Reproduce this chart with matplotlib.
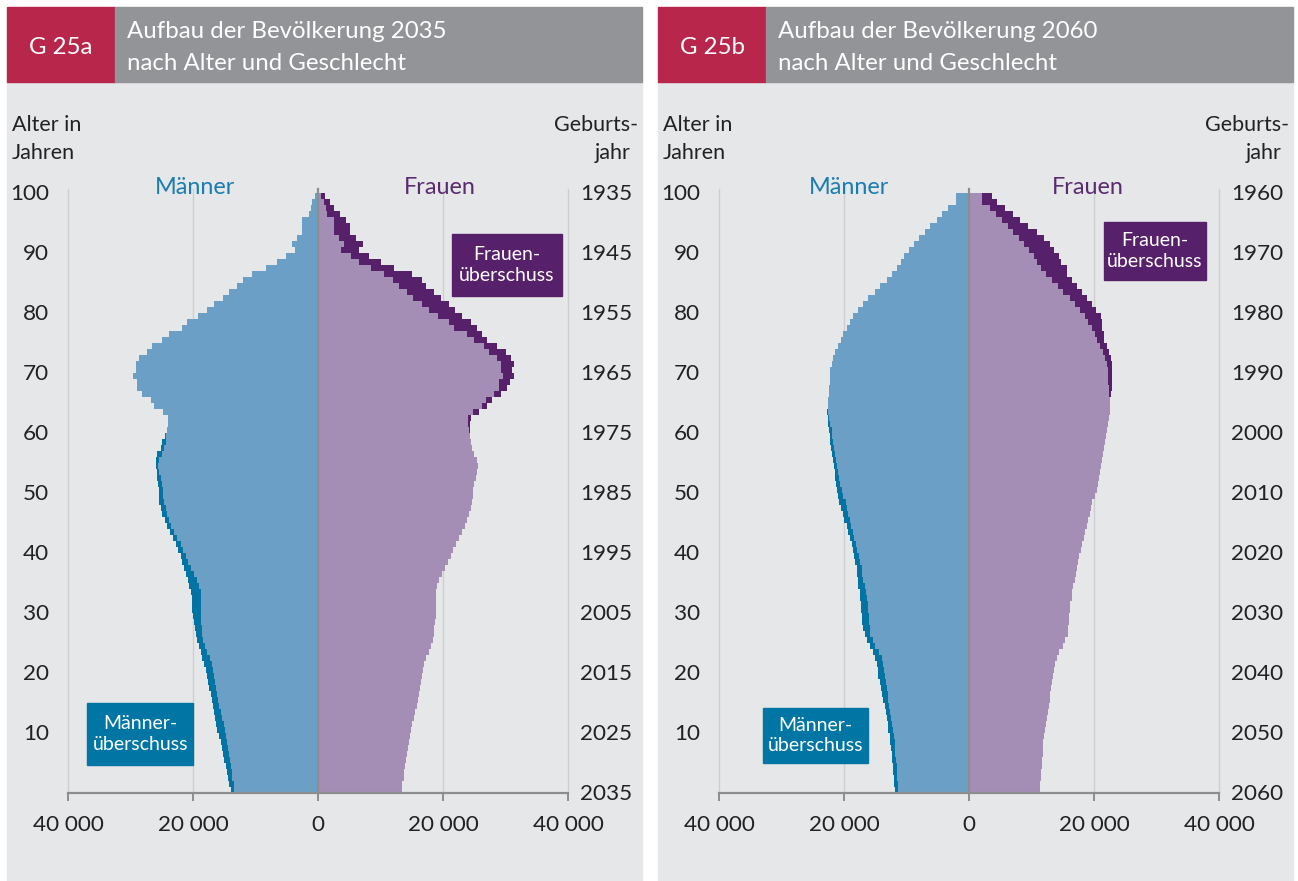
import matplotlib
matplotlib.use("Agg")
from matplotlib import pyplot as plt
from matplotlib.patches import Rectangle
import numpy as np

plt.rcParams['font.family'] = ['Lato', 'DejaVu Sans']

# population per single year of age (0..99), in thousands
men_2035 = [14.0, 14.2, 14.4, 14.6, 14.8, 15.0, 15.2, 15.4, 15.6, 15.9,
            16.1, 16.3, 16.5, 16.6, 16.8, 16.9, 17.2, 17.4, 17.6, 17.8,
            18.0, 18.3, 18.5, 18.8, 19.0, 19.3, 19.5, 19.7, 19.9, 20.0,
            20.1, 20.1, 20.2, 20.4, 20.6, 20.8, 21.1, 21.4, 21.7, 22.0,
            22.4, 22.8, 23.2, 23.7, 24.1, 24.5, 24.9, 25.2, 25.4, 25.5,
            25.5, 25.6, 25.7, 25.8, 26.0, 26.0, 25.8, 25.2, 25.0, 24.5,
            24.1, 24.0, 24.0, 24.8, 26.3, 26.8, 28.1, 28.9, 28.9, 29.6,
            29.2, 29.2, 28.7, 27.3, 26.6, 24.9, 23.9, 21.8, 20.9, 19.2,
            17.8, 16.7, 15.2, 14.2, 13.0, 12.0, 10.6, 8.4, 6.6, 5.2,
            3.7, 4.1, 3.4, 2.6, 2.6, 2.6, 1.5, 1.2, 0.9, 0.5]
women_2035 = [13.4, 13.5, 13.7, 13.8, 13.9, 14.1, 14.2, 14.4, 14.6, 14.7,
              14.9, 15.1, 15.3, 15.5, 15.8, 16.0, 16.2, 16.3, 16.5, 16.6,
              16.8, 17.0, 17.3, 17.7, 18.1, 18.4, 18.5, 18.6, 18.7, 18.8,
              18.8, 18.8, 18.8, 18.8, 19.0, 19.3, 19.8, 20.3, 20.8, 21.2,
              21.6, 22.0, 22.6, 23.1, 23.5, 23.9, 24.2, 24.4, 24.6, 24.8,
              24.8, 24.9, 25.2, 25.4, 25.6, 25.5, 25.0, 24.6, 24.4, 24.3,
              24.3, 24.3, 24.4, 25.8, 27.1, 27.9, 29.2, 30.2, 30.7, 31.3,
              31.0, 31.4, 30.8, 30.0, 28.7, 27.1, 26.3, 25.5, 24.4, 23.1,
              21.9, 20.9, 19.7, 18.6, 17.3, 16.7, 15.1, 12.2, 10.1, 8.2,
              6.5, 7.2, 6.1, 5.1, 5.1, 4.5, 3.5, 2.5, 1.9, 1.1]
men_2060 = [11.9, 12.0, 12.0, 12.1, 12.2, 12.3, 12.4, 12.5, 12.6, 12.7,
            12.9, 13.0, 13.1, 13.3, 13.5, 13.7, 13.9, 14.1, 14.3, 14.5,
            14.6, 14.8, 15.0, 15.4, 15.9, 16.4, 16.7, 17.0, 17.1, 17.2,
            17.3, 17.3, 17.4, 17.5, 17.7, 17.8, 17.9, 18.0, 18.2, 18.4,
            18.6, 18.8, 19.0, 19.3, 19.6, 20.0, 20.2, 20.5, 20.8, 20.9,
            21.1, 21.3, 21.4, 21.5, 21.6, 21.7, 21.9, 22.1, 22.2, 22.3,
            22.4, 22.5, 22.6, 22.7, 22.6, 22.5, 22.4, 22.4, 22.3, 22.3,
            22.2, 22.0, 21.8, 21.4, 21.0, 20.5, 20.1, 19.6, 19.1, 18.6,
            17.8, 16.9, 16.1, 15.1, 14.3, 13.2, 12.3, 11.5, 10.9, 10.4,
            9.6, 8.8, 8.0, 7.1, 6.3, 5.2, 4.3, 3.4, 2.1, 2.1]
women_2060 = [11.4, 11.4, 11.5, 11.5, 11.6, 11.7, 11.8, 11.8, 11.9, 12.0,
              12.2, 12.3, 12.5, 12.6, 12.8, 12.9, 13.0, 13.1, 13.3, 13.4,
              13.6, 13.7, 14.0, 14.4, 15.1, 15.4, 15.8, 15.9, 16.0, 16.0,
              16.1, 16.2, 16.4, 16.5, 16.7, 16.9, 17.1, 17.2, 17.4, 17.6,
              17.9, 18.1, 18.4, 18.6, 18.9, 19.1, 19.4, 19.5, 19.7, 20.1,
              20.4, 20.6, 20.8, 21.0, 21.1, 21.3, 21.4, 21.6, 21.7, 21.9,
              22.0, 22.2, 22.4, 22.6, 22.6, 22.6, 22.7, 22.8, 22.8, 22.8,
              22.8, 22.8, 22.7, 22.4, 22.1, 21.6, 21.6, 21.3, 21.2, 21.1,
              20.3, 19.7, 18.8, 18.1, 17.2, 16.5, 15.7, 15.7, 14.7, 14.4,
              13.6, 12.9, 12.0, 10.8, 9.5, 8.2, 7.0, 5.8, 4.5, 3.6]

age_ticks = [10, 20, 30, 40, 50, 60, 70, 80, 90, 100]
year_ticks = [0, 10, 20, 30, 40, 50, 60, 70, 80, 90, 100]
x_ticks = [-40000, -20000, 0, 20000, 40000]
x_labels = ['40 000', '20 000', '0', '20 000', '40 000']

W, H = 1298, 881
BG = '#e6e7e9'
HEAD_GREY = '#939497'
HEAD_RED = '#b8264b'
MEN_LIGHT = '#6b9fc6'
MEN_DARK = '#0274a4'
WOMEN_LIGHT = '#a58eb5'
WOMEN_DARK = '#57206b'
TXT = '#222222'
AXIS_GREY = '#8d8d8d'
GRID = '#cdced1'
NUM_PX = 22.5


def fx(x):
    return x / W


def fy(y):
    return 1 - y / H


def pt(px):
    return px * 0.72


def rect(fig, x0, y0, x1, y1, color, z):
    fig.patches.append(Rectangle((fx(x0), fy(y1)), fx(x1) - fx(x0), fy(y0) - fy(y1),
                                 transform=fig.transFigure, color=color, zorder=z))


def box(fig, x0, y0, x1, y1, color, text):
    rect(fig, x0, y0, x1, y1, color, 5)
    fig.text(fx((x0 + x1) / 2), fy((y0 + y1) / 2), text, color='white', fontsize=pt(19.5),
             ha='center', va='center', linespacing=1.25, zorder=6)


def panel(fig, dx, code, year, men, women, fbox, mbox, mlabel_x):
    # backgrounds and header
    rect(fig, 7 + dx, 82, 642 + dx, H, BG, -10)
    rect(fig, 7 + dx, 7, 115 + dx, 82, HEAD_RED, -10)
    rect(fig, 115 + dx, 7, 642 + dx, 82, HEAD_GREY, -10)
    fig.text(fx(61 + dx), fy(47), code, color='white', fontsize=pt(24), ha='center', va='center')
    fig.text(fx(127 + dx), fy(32), 'Aufbau der Bevölkerung %d' % year, color='white',
             fontsize=pt(24), ha='left', va='center')
    fig.text(fx(127 + dx), fy(64), 'nach Alter und Geschlecht', color='white',
             fontsize=pt(24), ha='left', va='center')

    fig.text(fx(12 + dx), fy(125), 'Alter in', color=TXT, fontsize=pt(21.5), ha='left', va='center')
    fig.text(fx(12 + dx), fy(153), 'Jahren', color=TXT, fontsize=pt(21.5), ha='left', va='center')
    fig.text(fx(638 + dx), fy(125), 'Geburts-', color=TXT, fontsize=pt(21.5), ha='right', va='center')
    fig.text(fx(631 + dx), fy(153), 'jahr', color=TXT, fontsize=pt(21.5), ha='right', va='center')

    ax = fig.add_axes([fx(68 + dx), fy(793), fx(500), fy(193) - fy(793)])
    ax.set_facecolor('none')
    ax.set_xlim(-40000, 40000)
    ax.set_ylim(0, 100)

    m = np.array(men) * 1000
    w = np.array(women) * 1000
    common = np.minimum(m, w)
    edges = np.arange(len(m) + 1)

    ax.stairs(-m, edges, baseline=0, fill=True, orientation='horizontal', color=MEN_DARK, zorder=2)
    ax.stairs(-common, edges, baseline=0, fill=True, orientation='horizontal', color=MEN_LIGHT, zorder=3)
    ax.stairs(w, edges, baseline=0, fill=True, orientation='horizontal', color=WOMEN_DARK, zorder=2)
    ax.stairs(common, edges, baseline=0, fill=True, orientation='horizontal', color=WOMEN_LIGHT, zorder=3)

    for xv in [-40000, -20000, 20000, 40000]:
        ax.plot([xv, xv], [0, 100.6], color=GRID, lw=1.0, zorder=1, clip_on=False)
    ax.plot([0, 0], [0, 100.7], color=AXIS_GREY, lw=1.6, zorder=4, clip_on=False)

    for s in ['left', 'right', 'top']:
        ax.spines[s].set_visible(False)
    ax.spines['bottom'].set_color(AXIS_GREY)
    ax.spines['bottom'].set_linewidth(1.6)
    ax.spines['bottom'].set_zorder(5)
    ax.set_xticks(x_ticks)
    ax.set_xticklabels(x_labels)
    ax.tick_params(axis='x', length=5.5, width=1.4, color=AXIS_GREY, labelsize=pt(NUM_PX),
                   labelcolor=TXT, pad=10)
    ax.set_yticks([])

    for a in age_ticks:
        fig.text(fx(49 + dx), fy(794 - 6 * a), str(a), color=TXT, fontsize=pt(NUM_PX),
                 ha='right', va='center')
    for a in year_ticks:
        fig.text(fx(632 + dx), fy(794 - 6 * a), str(year - a), color=TXT, fontsize=pt(NUM_PX),
                 ha='right', va='center')

    fig.text(fx(mlabel_x + dx), fy(187), 'Männer', color='#1a7db0', fontsize=pt(23.5),
             ha='center', va='center')
    fig.text(fx(fbox[4] + dx), fy(187), 'Frauen', color='#5b2b70', fontsize=pt(23.5),
             ha='center', va='center')

    box(fig, fbox[0] + dx, fbox[1], fbox[2] + dx, fbox[3], WOMEN_DARK, 'Frauen-\nüberschuss')
    box(fig, mbox[0] + dx, mbox[1], mbox[2] + dx, mbox[3], '#0176a5', 'Männer-\nüberschuss')
    return ax


fig = plt.figure(figsize=(W / 100, H / 100), dpi=100)
fig.patch.set_facecolor('white')

panel(fig, 0, 'G 25a', 2035, men_2035, women_2035,
      (452, 234, 562, 296, 440), (87, 703, 193, 765), 195)
panel(fig, 651, 'G 25b', 2060, men_2060, women_2060,
      (453, 222, 555, 280, 437), (112, 708, 217, 763), 198)

fig.savefig('out.png', dpi=100, facecolor='white')
